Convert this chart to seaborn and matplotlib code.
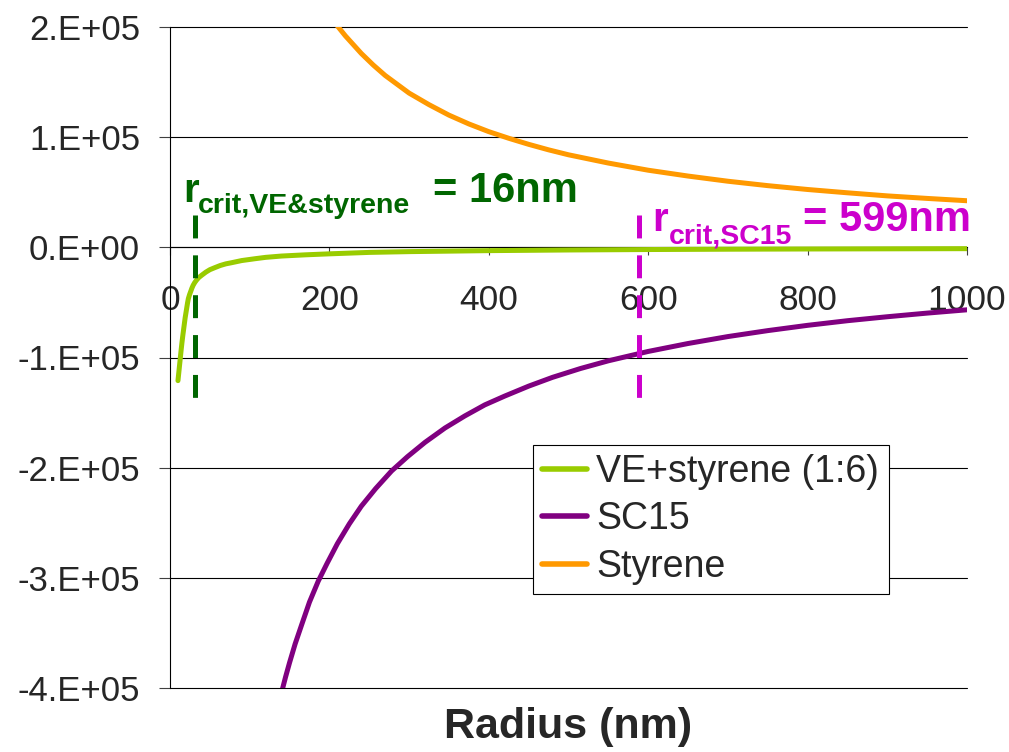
import matplotlib
matplotlib.use("Agg")
import matplotlib.pyplot as plt
import seaborn as sns
import pandas as pd
from matplotlib.lines import Line2D
from matplotlib.ticker import FixedLocator, FixedFormatter

# ---------------- data ----------------
ve_radius = [10, 11, 12, 13, 14, 15, 16, 17, 18, 19, 20, 21, 22, 23, 24.5, 26, 27.5, 29,
             31, 33, 36, 40, 45, 50, 56, 63, 70, 77, 90, 107, 120, 140, 170,
             200, 250, 300, 400, 500, 600, 700, 800, 900, 1000]
ve_value = [-121e3, -114e3, -107e3, -100e3, -93e3, -86.5e3, -80.5e3, -75e3, -69.5e3,
            -64e3, -59.5e3, -55e3, -50.5e3, -46.6e3, -43e3, -40e3, -37e3, -34.5e3,
            -32e3, -30e3, -27.5e3, -25.2e3, -22.5e3, -20.3e3, -18.5e3, -16.5e3, -15e3,
            -14e3, -12e3, -10.3e3, -9.1e3, -7.9e3, -6.8e3,
            -5.9e3, -4.6e3, -3.9e3, -3.0e3, -2.4e3, -2.0e3, -1.7e3, -1.5e3, -1.35e3, -1.2e3]

sc15_radius = [130, 135, 140, 145, 150, 157, 165, 175, 186, 197, 210, 225, 240, 258,
               278, 298, 320, 345, 370, 395, 420, 450, 480, 515, 550, 600, 650, 700,
               750, 800, 850, 900, 950, 1000]
sc15_value = [-435e3, -419e3, -404e3, -390e3, -377e3, -360e3, -343e3, -322e3, -303e3,
              -287e3, -269e3, -251e3, -235e3, -219e3, -203e3, -190e3, -177e3, -164e3,
              -153e3, -143e3, -135e3, -126e3, -118e3, -110e3, -103e3, -94.5e3, -87.3e3,
              -81e3, -75.6e3, -70.8e3, -66.6e3, -63e3, -59.7e3, -56.7e3]

sty_radius = [200, 205, 210, 220, 230, 240, 255, 270, 285, 300, 325, 350, 375, 400, 425,
              450, 475, 500, 550, 600, 650, 700, 750, 800, 850, 900, 950, 1000]
sty_value = [210e3, 205.5e3, 201e3, 192e3, 184e3, 176e3, 165.5e3, 156e3, 148e3, 140e3,
             129.5e3, 120e3, 112e3, 105e3, 99e3, 93.5e3, 88.5e3, 84e3, 76.5e3, 70e3,
             64.7e3, 60e3, 56e3, 52.5e3, 49.5e3, 46.7e3, 44.4e3, 42.3e3]

series_names = ["VE+styrene (1:6)", "SC15", "Styrene"]
crit_ve_marker = 31      # position of dashed green line as drawn
crit_sc15_marker = 588   # position of dashed magenta line as drawn

x_ticks = [0, 200, 400, 600, 800, 1000]
x_tick_labels = ["0", "200", "400", "600", "800", "1000"]
y_ticks = [2e5, 1e5, 0, -1e5, -2e5, -3e5, -4e5]
y_tick_labels = ["2.E+05", "1.E+05", "0.E+00", "-1.E+05", "-2.E+05", "-3.E+05", "-4.E+05"]

# ---------------- styling ----------------
sns.set_style("white")
plt.rcParams["font.family"] = ["Liberation Sans", "DejaVu Sans"]
plt.rcParams["lines.scale_dashes"] = False

colors = {"VE+styrene (1:6)": "#99CC00", "SC15": "#800080", "Styrene": "#FF9900"}
GREEN_DARK = "#006600"
MAGENTA = "#CC00CC"

df = pd.concat([
    pd.DataFrame({"Radius": ve_radius, "Value": ve_value, "Series": series_names[0]}),
    pd.DataFrame({"Radius": sc15_radius, "Value": sc15_value, "Series": series_names[1]}),
    pd.DataFrame({"Radius": sty_radius, "Value": sty_value, "Series": series_names[2]}),
], ignore_index=True)

fig = plt.figure(figsize=(10.09, 7.52), dpi=100)
ax = fig.add_axes([170 / 1009, 1 - 688 / 752, 797 / 1009, 661 / 752])

# gridlines
for yv in y_ticks:
    ax.axhline(yv, color="black", lw=0.8, zorder=1, clip_on=False)

sns.lineplot(data=df, x="Radius", y="Value", hue="Series", palette=colors,
             hue_order=series_names, estimator=None, errorbar=None, sort=False,
             linewidth=3.6, legend=False, ax=ax, zorder=3)
for ln in ax.lines:
    ln.set_solid_joinstyle("round")
    ln.set_solid_capstyle("round")

ax.set_xlim(0, 1000)
ax.set_ylim(-4e5, 2e5)

# dashed critical radius markers
ax.plot([crit_ve_marker, crit_ve_marker], [29e3, -141e3], color=GREEN_DARK, lw=3.6,
        dashes=(16.5, 12.2), zorder=4, dash_capstyle="butt")
ax.plot([crit_sc15_marker, crit_sc15_marker], [29e3, -141e3], color=MAGENTA, lw=3.6,
        dashes=(16.5, 12.2), zorder=4, dash_capstyle="butt")

# annotations
ax.text(16, 41e3, "r", color=GREEN_DARK, fontsize=29, fontweight="bold", va="baseline", zorder=5)
ax.text(35, 31e3, "crit,VE&styrene", color=GREEN_DARK, fontsize=20.5, fontweight="bold",
        va="baseline", zorder=5)
ax.text(330, 41e3, "= 16nm", color=GREEN_DARK, fontsize=30, fontweight="bold", va="baseline", zorder=5)

ax.text(605, 15e3, "r", color=MAGENTA, fontsize=29, fontweight="bold", va="baseline",
        zorder=5, clip_on=False)
ax.text(626, 3.6e3, "crit,SC15", color=MAGENTA, fontsize=20.5, fontweight="bold",
        va="baseline", zorder=5, clip_on=False)
ax.text(794, 15e3, "= 599nm", color=MAGENTA, fontsize=30, fontweight="bold",
        va="baseline", zorder=5, clip_on=False)

# axes / spines
ax.spines["top"].set_visible(False)
ax.spines["right"].set_visible(False)
ax.spines["bottom"].set_position(("data", 0))
ax.spines["bottom"].set_color("black")
ax.spines["left"].set_color("black")
ax.spines["bottom"].set_linewidth(0.8)
ax.spines["left"].set_linewidth(0.8)
ax.spines["bottom"].set_zorder(1)

ax.xaxis.set_major_locator(FixedLocator(x_ticks))
ax.xaxis.set_major_formatter(FixedFormatter(x_tick_labels))
ax.yaxis.set_major_locator(FixedLocator(y_ticks))
ax.yaxis.set_major_formatter(FixedFormatter(y_tick_labels))
ax.tick_params(axis="x", direction="out", length=5.5, width=0.8, color="#404040",
               labelsize=25.5, pad=21, bottom=True)
ax.tick_params(axis="y", direction="out", length=8, width=0.8, color="#404040",
               labelsize=25, pad=13.5, left=True)
ax.set_xlabel("")
ax.set_ylabel("")

fig.text(568 / 1009, 1 - 727 / 752, "Radius (nm)", fontsize=31, fontweight="bold",
         ha="center", va="center")

handles = [Line2D([0], [0], color=colors[n], lw=4, solid_capstyle="round") for n in series_names]
leg = ax.legend(handles, series_names, loc="upper left", bbox_to_anchor=(0.455, 0.368),
                fontsize=27, frameon=True, fancybox=False, framealpha=1,
                edgecolor="black", borderpad=0.25, labelspacing=0.3,
                handlelength=1.2, handletextpad=0.25, borderaxespad=0)
leg.get_frame().set_linewidth(0.8)
leg.set_zorder(6)

fig.savefig("out.png", dpi=100, facecolor="white")
